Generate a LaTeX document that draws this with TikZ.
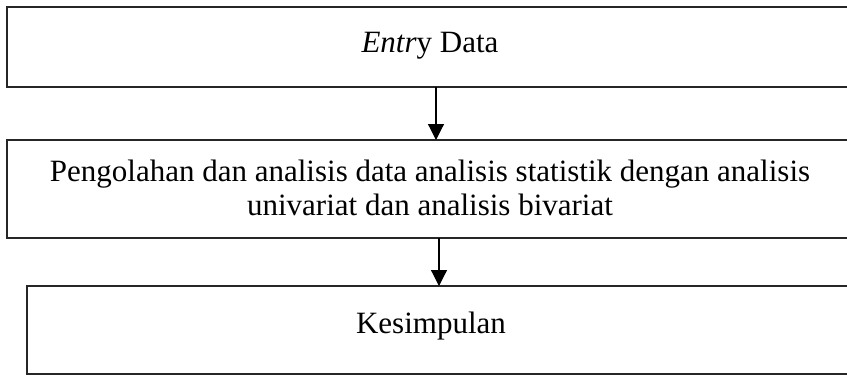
\documentclass[tikz,border=0pt]{standalone}
\usepackage{fontspec}
\setmainfont{Liberation Serif}
\usetikzlibrary{arrows.meta}
\begin{document}
\begin{tikzpicture}[x=1pt,y=-1pt,
  boxstyle/.style={draw=black!85,line width=1.4pt,inner sep=0pt,outer sep=0pt},
  txt/.style={font=\fontsize{31}{35}\selectfont,anchor=base,inner sep=0pt},
  arr/.style={draw=black,line width=1.2pt,-{Triangle[width=16pt,length=16pt]}}]
\useasboundingbox (0,0) rectangle (847,375);
\clip (0,0) rectangle (847,375);
\node[boxstyle,minimum width=846pt,minimum height=80pt] (b1) at (430,47) {};
\node[boxstyle,minimum width=846pt,minimum height=98pt] (b2) at (430,189) {};
\node[boxstyle,minimum width=826pt,minimum height=88pt] (b3) at (440,330) {};
\node[txt] (t1) at (430,52) {\textit{Entr}y Data};
\node[txt] (t2) at (430,181) {Pengolahan dan analisis data analisis statistik dengan analisis};
\node[txt] (t3) at (430,215) {univariat dan analisis bivariat};
\node[txt] (t4) at (431,333) {Kesimpulan};
\coordinate (c1) at (436,0);
\coordinate (c2) at (439,0);
\draw[arr] (c1 |- b1.south) -- (c1 |- b2.north);
\draw[arr] (c2 |- b2.south) -- (c2 |- b3.north);
\end{tikzpicture}
\end{document}
